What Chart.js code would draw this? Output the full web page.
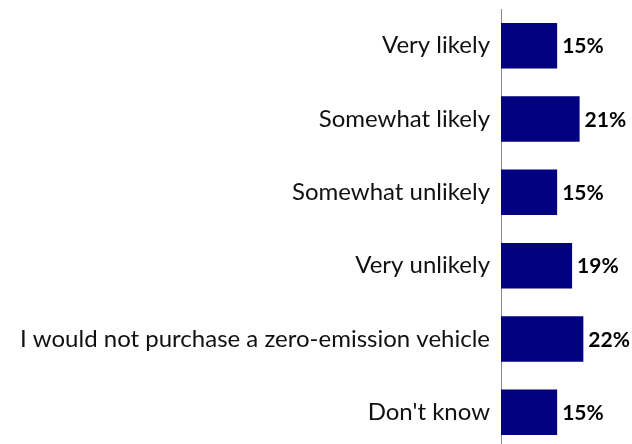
<!DOCTYPE html>
<html><head><meta charset="utf-8">
<script src="https://cdn.jsdelivr.net/npm/chart.js@4/dist/chart.umd.min.js"></script>
<style>html,body{margin:0;padding:0;background:#fff;overflow:hidden}#wrap{width:632px;height:449px;position:relative}</style>
</head><body><div id="wrap"><canvas id="c"></canvas></div>
<script>
const categories = ["Very likely","Somewhat likely","Somewhat unlikely","Very unlikely","I would not purchase a zero-emission vehicle","Don't know"];
const values = [15,21,15,19,22,15];
const valueLabels = ["15%","21%","15%","19%","22%","15%"];

const labelPlugin = {
  id:'vals',
  afterDatasetsDraw(chart){
    const ctx=chart.ctx; const meta=chart.getDatasetMeta(0);
    ctx.save(); ctx.font='bold 21px Lato'; ctx.fillStyle='#000'; ctx.textBaseline='middle'; ctx.textAlign='left';
    meta.data.forEach((b,i)=>{ ctx.fillText(valueLabels[i], b.x+5, b.y+1); });
    ctx.restore();
  }
};
new Chart(document.getElementById('c'),{
  type:'bar',
  data:{labels:categories,datasets:[{data:values,backgroundColor:'#000080',barPercentage:0.62,categoryPercentage:1}]},
  options:{indexAxis:'y',responsive:true,maintainAspectRatio:false,animation:false,
    layout:{padding:{top:9,right:0,bottom:0,left:0}},
    plugins:{legend:{display:false},tooltip:{enabled:false}},
    scales:{
      x:{min:0,max:35,display:false},
      y:{afterFit(s){s.width=501;s.paddingTop=0;s.paddingBottom=0;},grid:{display:false,drawTicks:false},border:{display:true,color:'#888',width:1},
         ticks:{color:'#111',font:{family:'Lato',size:24},padding:11}}
    }
  },
  plugins:[labelPlugin]
});
</script></body></html>
